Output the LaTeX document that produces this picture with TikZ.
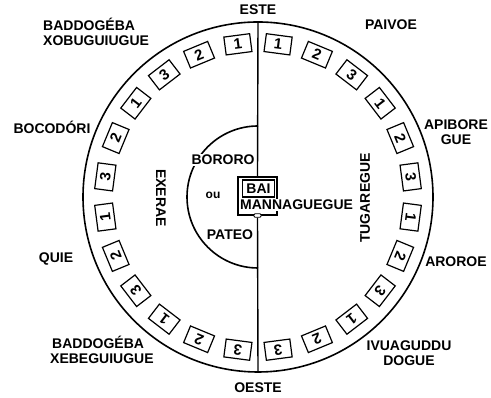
\documentclass[tikz,border=0pt]{standalone}
\usepackage{fontspec}
\setmainfont{Liberation Sans}
\usetikzlibrary{positioning}

\begin{document}
\begin{tikzpicture}[
  x=1pt, y=1pt,
  font=\fontsize{14}{14.5}\selectfont\bfseries,
  lbl/.style={align=center,inner sep=1pt},
  seg/.style={draw,line width=1.2pt,minimum width=26pt,minimum height=18pt,inner sep=0pt,
    font=\fontsize{15}{15}\selectfont\bfseries},
  ring/.style={line width=1.6pt},
  axis/.style={line width=1.4pt},
]
\useasboundingbox (0,0) rectangle (491,398);
\coordinate (c) at (258,201);
\coordinate (top) at (258,376);
\coordinate (bot) at (258,26);
\draw[ring] (c) circle[radius=175];
\draw[ring] (258,272) arc[start angle=90,end angle=270,radius=71];

% men's house in the middle
\node[draw,line width=1.1pt,minimum width=39pt,minimum height=38pt,inner sep=0pt] (hut) at (257.5,202) {};
\node[draw,line width=1.1pt,minimum width=32pt,minimum height=17pt,inner sep=0pt] (bai) at (258.5,209.5) {BAI};
\node[lbl,fill=white,anchor=west] (man) at (239,193) {MANNAGUEGUE};
\node[draw,line width=0.9pt,rounded corners=1pt,fill=white,minimum width=7pt,minimum height=3.5pt,inner sep=0pt] (door) at (hut.south) {};
\draw[axis] (top) -- (hut.north);
\draw[axis] (door) -- (bot);

% clan boxes, three per clan
\foreach \k in {0,...,11}{
  \pgfmathtruncatemacro{\n}{mod(\k,3)+1}
  \pgfmathsetmacro{\a}{82.5-15*\k}
  \pgfmathsetmacro{\b}{97.5+15*\k}
  \node[seg,rotate=\a-90] (tug\k) at ([shift={(\a:154)}]c) {\n};
  \node[seg,rotate=\b-90] (exe\k) at ([shift={(\b:154)}]c) {\n};
}

% directions and moieties
\node[lbl] (este) at (258,388) {ESTE};
\node[lbl] (oeste) at (258,10) {OESTE};
\node[lbl,rotate=-90] (exerae) at (161,200) {EXERAE};
\node[lbl,rotate=90] (tugaregue) at (365,200) {TUGAREGUE};
\node[lbl,fill=white] (bororo) at (223,238) {BORORO};
\node[lbl] (ou) at (213,203) {\fontsize{12}{12}\selectfont ou};
\node[lbl] (pateo) at (230,163) {PATEO};

% clans
\node[lbl,align=left,anchor=west] (xobu) at (42,366) {BADDOGÉBA\\XOBUGUIUGUE};
\node[lbl] (boco) at (52,271) {BOCODÓRI};
\node[lbl] (quie) at (56,139) {QUIE};
\node[lbl,align=left,anchor=west] (xebe) at (49,48) {\hspace{2pt}BADDOGÉBA\\XEBEGUIUGUE};
\node[lbl] (paivoe) at (391,373) {PAIVOE};
\node[lbl] (apib) at (456,266) {APIBORE\\GUE};
\node[lbl] (aroroe) at (456,136) {AROROE};
\node[lbl] (ivua) at (409,45) {IVUAGUDDU\\DOGUE};
\end{tikzpicture}
\end{document}
